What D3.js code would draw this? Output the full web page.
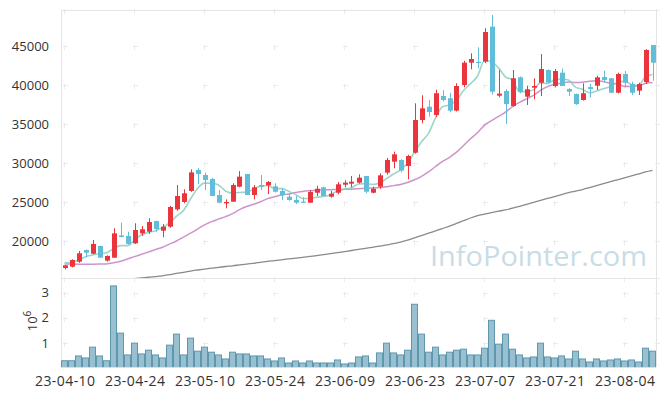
<!DOCTYPE html>
<html><head><meta charset="utf-8">
<script src="https://cdn.jsdelivr.net/npm/d3@7"></script>
<style>
html,body{margin:0;padding:0;background:#fff;}
svg{display:block;font-family:"Open Sans","Noto Sans",sans-serif;}
</style></head>
<body><svg id="c" width="665" height="396"></svg>
<script>
const tickDates = ['23-04-10','23-04-24','23-05-10','23-05-24','23-06-09','23-06-23','23-07-07','23-07-21','23-08-04'];
const tickIdx = [0,10,20,30,40,50,60,70,80];
const priceTicks = [20000,25000,30000,35000,40000,45000];
const volTicks = [1,2,3];

const opens = [16540,16710,17350,18846,18370,19360,17480,17860,20720,20640,
19700,20980,21190,22560,21320,21840,24060,25000,26410,29100,
28460,27950,25900,24830,25040,26960,28590,25900,27180,27130,
27010,26410,25680,25260,25040,24910,26190,26880,25680,26190,
27220,27350,27480,28330,26190,26960,28760,30170,30385,29620,
31320,35510,37220,36150,38590,38300,36710,39990,42860,42970,
42990,47480,38630,39230,37310,40990,38500,39660,40290,41920,
39870,41580,39490,38850,38080,39740,39910,41030,40860,39010,
41410,40130,39270,40380,45130];
const highs = [16920,17650,18720,18900,20128,19400,18150,21620,22350,21190,
22270,21920,22900,22600,22170,24500,27180,26630,29190,29360,
28760,28100,26540,25340,27400,28970,28600,27180,28460,27700,
27400,26800,26120,25770,25600,26540,27080,26960,26420,27560,
27780,28330,28550,28350,26960,28670,30640,31450,30500,31050,
37650,38680,38080,39400,39350,39000,40220,43100,44060,44830,
47270,48970,41920,39450,41920,41100,39910,40860,43970,42000,
42050,42100,39600,38900,40210,40130,41180,41830,40900,41580,
41790,40420,40290,44600,45130];
const lows = [16370,16630,17200,17910,18290,17860,17350,17860,20470,19540,
19620,20640,20900,21190,20480,21700,23880,24830,26300,27300,
26540,25770,24830,24190,25000,26900,25900,25340,26540,26020,
26200,25260,25150,24740,24910,24910,25770,25770,25550,25990,
26880,26880,27350,26120,26100,26700,28500,29330,28800,27910,
31200,35090,35940,35900,37900,36500,36600,39700,42010,42130,
42800,38800,38420,34990,37200,38950,37440,38170,38590,40290,
39700,39870,38590,37440,38000,38420,39360,40290,39010,38900,
39700,38720,38720,40130,40550];
const closes = [16880,17564,18420,18500,19620,17860,18080,20980,20510,19620,
21410,21500,22430,21540,21840,24360,25770,26120,28800,28590,
27820,25770,24910,25000,27180,28250,25900,26880,26960,27560,
26320,25860,25260,24910,24910,26280,26700,25770,26060,27270,
27480,27600,28120,26320,26700,28420,30385,31110,29030,30900,
35510,37010,36540,38940,38080,36710,39870,42860,43330,42840,
46790,39140,38890,37560,40860,39140,39450,39870,42050,40290,
41790,39870,39140,37560,38940,39490,40980,40640,39010,41410,
40290,39010,40130,44490,42860];
// volume in millions
const volumes = [0.29,0.29,0.48,0.40,0.83,0.48,0.29,3.27,1.39,0.52,
0.99,0.56,0.71,0.52,0.40,0.91,1.35,0.52,1.19,0.67,
0.83,0.63,0.52,0.36,0.63,0.56,0.56,0.48,0.48,0.36,
0.28,0.40,0.20,0.28,0.20,0.28,0.20,0.20,0.20,0.32,
0.16,0.20,0.44,0.48,0.20,0.60,0.99,0.60,0.52,0.71,
2.54,1.35,0.63,0.83,0.52,0.63,0.71,0.75,0.52,0.52,
0.79,1.90,0.95,1.35,0.75,0.52,0.40,0.44,0.99,0.44,
0.40,0.48,0.36,0.67,0.36,0.24,0.36,0.28,0.32,0.36,
0.28,0.32,0.24,0.79,0.67];
const ma5 = [17220,17270,17560,17990,18197,18393,18496,19008,19410,19410,
20120,20804,21094,21300,21744,22334,23188,23926,25378,26728,
27420,27420,27178,26418,26136,26222,26248,26642,27034,27110,
26724,26716,26392,25982,25452,25444,25612,25714,25944,26416,
26656,26836,27306,27358,27244,27432,27989,28587,29129,29969,
31387,32712,33798,35780,37216,37456,38028,39292,40170,41122,
43138,42992,42198,41044,40648,39118,39180,39376,40274,40160,
40690,40774,40628,39730,39460,39000,39222,39522,39812,40306,
40466,40072,39970,41066,41356];
const ma20 = [17050,17040,17030,17030,17030,17040,17060,17200,17400,17700,
18000,18300,18600,18900,19200,19600,20000,20500,21000,21520,
22067,22477,22802,23127,23505,24024,24415,24710,25033,25430,
25675,25893,26035,26203,26357,26450,26520,26560,26580,26600,
26620,26650,26700,26750,26800,26850,26950,27100,27250,27500,
27850,28287,28851,29553,30211,30733,31391,32246,33109,33888,
34853,35430,35969,36531,37239,37775,38228,38666,39317,39787,
40101,40244,40374,40305,40348,40487,40542,40431,40215,40144,
39819,39812,39874,40221,40321];
const ma120 = [null,null,null,null,null,null,null,null,14950,15050,
15170,15260,15350,15440,15540,15680,15850,15980,16150,16280,
16400,16510,16630,16730,16820,16930,17040,17140,17250,17380,
17480,17590,17700,17800,17900,18020,18130,18260,18390,18520,
18650,18780,18920,19050,19190,19330,19490,19650,19850,20100,
20400,20700,21000,21300,21600,21900,22250,22600,22950,23250,
23450,23650,23820,23980,24200,24450,24700,24950,25200,25450,
25700,25950,26200,26400,26600,26850,27100,27350,27600,27850,
28100,28350,28600,28850,29050];

const L = 61, R = 656, T = 10, MID = 278, B = 368;
const svg = d3.select('#c');
const n = closes.length;
const x = d3.scaleLinear().domain([-0.5, n - 0.5]).range([L, R]);
const y = d3.scaleLinear().domain([15256, 49615]).range([MID, T]);
const yv = d3.scaleLinear().domain([0, 3.586]).range([B, MID]);

const gridC = '#ebebeb';
const defs = svg.append('defs');
defs.append('clipPath').attr('id','cp1').append('rect').attr('x',L).attr('y',T).attr('width',R-L).attr('height',MID-T);
defs.append('clipPath').attr('id','cp2').append('rect').attr('x',L).attr('y',MID).attr('width',R-L).attr('height',367.3-MID);

function cross(g, cx, cy){
  g.append('line').attr('x1',cx-2).attr('x2',cx+3).attr('y1',cy).attr('y2',cy).attr('stroke',gridC).attr('stroke-width',1);
  g.append('line').attr('x1',cx).attr('x2',cx).attr('y1',cy-2).attr('y2',cy+3).attr('stroke',gridC).attr('stroke-width',1);
}
const grid = svg.append('g').attr('shape-rendering','crispEdges');
const xs = tickIdx.map(i => Math.round(x(i)) - 0.5).concat([R + 0.5]);
priceTicks.forEach(v => xs.forEach(cx => cross(grid, cx, Math.round(y(v)) + 0.5)));
volTicks.forEach(v => xs.forEach(cx => cross(grid, cx, Math.round(yv(v)) + 0.5)));
xs.forEach(cx => { cross(grid, cx, T + 0.5); cross(grid, cx, MID + 0.5); });

// watermark
svg.append('text').attr('x', 430).attr('y', 266).attr('font-size', 27)
  .attr('textLength', 217).attr('lengthAdjust','spacingAndGlyphs')
  .attr('fill', '#c9dce6').text('InfoPointer.com');

// frame
const frame = svg.append('g').attr('stroke','#e4e4e4').attr('fill','none').attr('shape-rendering','crispEdges');
frame.append('line').attr('x1',L).attr('x2',R).attr('y1',T+0.5).attr('y2',T+0.5);
frame.append('line').attr('x1',L).attr('x2',R).attr('y1',MID+0.5).attr('y2',MID+0.5);
frame.append('line').attr('x1',L+0.5).attr('x2',L+0.5).attr('y1',T).attr('y2',367);
frame.append('line').attr('x1',R+0.5).attr('x2',R+0.5).attr('y1',T).attr('y2',367);

// MA lines
const up = svg.append('g').attr('clip-path','url(#cp1)');
function maLine(arr, color, w, op){
  const gen = d3.line().defined(d => d != null).x((d,i) => x(i)).y(d => y(d)).curve(d3.curveMonotoneX);
  up.append('path').attr('d', gen(arr)).attr('fill','none').attr('stroke',color).attr('stroke-width',w).attr('opacity',op);
}
maLine(ma120, '#8a8a8a', 1.3, 1);
maLine(ma20, '#c987c5', 1.5, 0.9);
maLine(ma5, '#8ccfc0', 1.6, 0.85);

// candles
const idx = d3.range(n);
const upC = '#e9353b', dnC = '#62bdd8';
const cg = up.append('g').selectAll('g').data(idx).join('g');
cg.append('line')
  .attr('x1', i => Math.round(x(i)) + 0.5).attr('x2', i => Math.round(x(i)) + 0.5)
  .attr('y1', i => y(highs[i])).attr('y2', i => y(lows[i]))
  .attr('stroke', i => closes[i] >= opens[i] ? upC : dnC).attr('stroke-width', 1);
cg.append('rect')
  .attr('x', i => Math.round(x(i)) - 2)
  .attr('width', 5)
  .attr('y', i => y(Math.max(opens[i], closes[i])))
  .attr('height', i => Math.max(1.2, Math.abs(y(opens[i]) - y(closes[i]))))
  .attr('fill', i => closes[i] >= opens[i] ? upC : dnC);

// volume bars
const vg = svg.append('g').attr('clip-path','url(#cp2)');
const bw = x(1) - x(0);
vg.selectAll('rect').data(idx).join('rect')
  .attr('x', i => x(i) - bw/2 + 0.5).attr('width', bw - 1)
  .attr('y', i => yv(volumes[i])).attr('height', i => yv(0) - yv(volumes[i]))
  .attr('fill', '#98c0d0').attr('stroke', '#5e97ae').attr('stroke-width', 1);

// axes
const axStyle = g => {
  g.select('.domain').remove();
  g.selectAll('.tick line').remove();
  g.selectAll('text').attr('fill','#333').attr('font-size', 13).attr('font-family','"Open Sans","Noto Sans",sans-serif');
};
svg.append('g').attr('transform', `translate(${L},0)`)
  .call(d3.axisLeft(y).tickValues(priceTicks).tickFormat(d3.format('d')).tickPadding(6))
  .call(axStyle);
svg.append('g').attr('transform', `translate(${L},0)`)
  .call(d3.axisLeft(yv).tickValues(volTicks).tickFormat(d3.format('d')).tickPadding(6))
  .call(axStyle);
svg.append('g').attr('transform', `translate(0,${368})`)
  .call(d3.axisBottom(x).tickValues(tickIdx).tickFormat((d,k) => tickDates[k]).tickPadding(2))
  .call(axStyle)
  .call(g => g.selectAll('text').attr('font-size', 14).attr('textLength', 60).attr('lengthAdjust','spacing'));

// 10^6 label
const ul = svg.append('text').attr('transform','translate(37,321) rotate(-90)')
  .attr('text-anchor','middle').attr('fill','#333').attr('font-size',13);
ul.append('tspan').text('10');
ul.append('tspan').attr('font-size',10).attr('dy',-6).text('6');
</script></body></html>
